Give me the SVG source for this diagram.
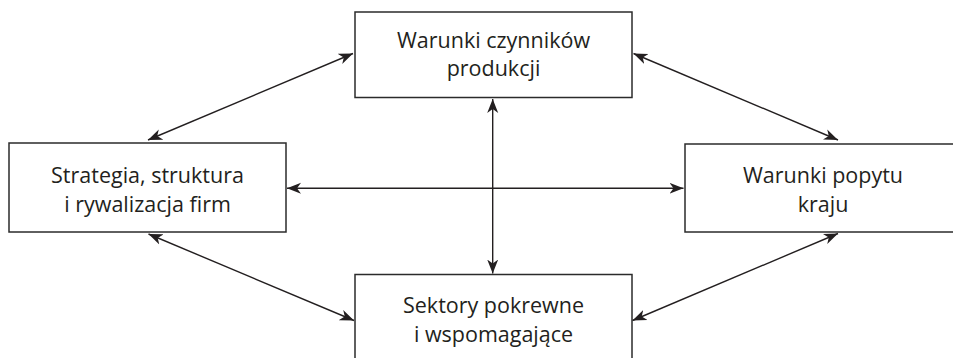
<svg xmlns="http://www.w3.org/2000/svg" width="953" height="358" viewBox="0 0 953 358">
  <style>
    .box { fill: #ffffff; stroke: #2b2b2b; stroke-width: 1.5; }
    .label { font-family: "Open Sans", "Noto Sans", "Liberation Sans", sans-serif; font-size: 21.5px; fill: #231f20; text-anchor: middle; }
    .link { fill: none; stroke: #231f20; stroke-width: 1.4; marker-start: url(#head); marker-end: url(#head); }
  </style>
  <defs>
    <marker id="head" viewBox="-14 -6 16 12" refX="0" refY="0" markerWidth="16" markerHeight="12" markerUnits="userSpaceOnUse" orient="auto-start-reverse">
      <path d="M0,0 L-14,-5.5 L-10,0 L-14,5.5 Z" fill="#231f20"/>
    </marker>
  </defs>

  <rect width="953" height="358" fill="#ffffff"/>

  <!-- connectors: every pair of factors is linked both ways -->
  <g id="connectors">
    <line class="link" x1="148" y1="140" x2="353" y2="53.5"/>
    <line class="link" x1="633.5" y1="53.5" x2="838" y2="140"/>
    <line class="link" x1="287" y1="188.3" x2="683.5" y2="188.3"/>
    <line class="link" x1="492.7" y1="99" x2="492.7" y2="273.5"/>
    <line class="link" x1="148.5" y1="234" x2="354" y2="320.5"/>
    <line class="link" x1="632.5" y1="320.5" x2="838" y2="233.5"/>
  </g>

  <g id="factor-conditions">
    <rect class="box" x="355" y="12" width="277" height="85.5"/>
    <text class="label" x="493.5" y="47.5">Warunki czynników</text>
    <text class="label" x="493.5" y="76">produkcji</text>
  </g>

  <g id="firm-strategy">
    <rect class="box" x="9" y="143" width="277" height="89"/>
    <text class="label" x="147.5" y="183.3">Strategia, struktura</text>
    <text class="label" x="147.5" y="211.7">i rywalizacja firm</text>
  </g>

  <g id="demand-conditions">
    <rect class="box" x="685" y="144" width="278" height="88"/>
    <text class="label" x="823" y="183.3">Warunki popytu</text>
    <text class="label" x="823" y="211.7">kraju</text>
  </g>

  <g id="related-industries">
    <rect class="box" x="355" y="274.5" width="277" height="90"/>
    <text class="label" x="493.5" y="313.3">Sektory pokrewne</text>
    <text class="label" x="493.5" y="341.7">i wspomagające</text>
  </g>
</svg>
